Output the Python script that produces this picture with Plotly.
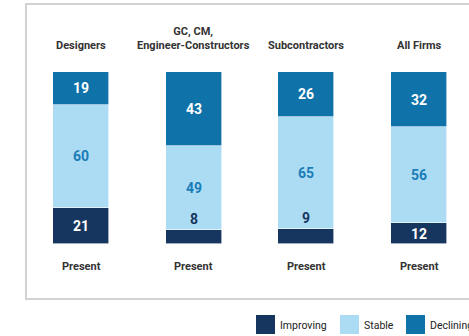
import plotly.graph_objects as go

categories = ["Designers", "GC, CM,<br>Engineer-Constructors", "Subcontractors", "All Firms"]
period_labels = ["Present", "Present", "Present", "Present"]
improving = [21, 8, 9, 12]
stable = [60, 49, 65, 56]
declining = [19, 43, 26, 32]
series_names = ["Improving", "Stable", "Declining"]

C_IMP = "#17365f"
C_STA = "#acdcf4"
C_DEC = "#0f72a8"
FONT = "Roboto"

W, H = 469, 336
T, B = 72, 92
x_idx = list(range(len(categories)))
spacing = 112.67
x0 = -81 / spacing
x1 = x0 + W / spacing

fig = go.Figure()
for name, vals, col in [("Improving", improving, C_IMP), ("Stable", stable, C_STA), ("Declining", declining, C_DEC)]:
    fig.add_trace(go.Bar(x=x_idx, y=vals, name=name, marker=dict(color=col, line=dict(color="white", width=0.6)),
                         width=0.497, showlegend=False, hoverinfo="skip"))

anns = []
for i in x_idx:
    base = 0
    for vals, col_in, col_out in [(improving, "white", C_IMP), (stable, "#1b7db7", "#1b7db7"), (declining, "white", "white")]:
        v = vals[i]
        if v >= 10:
            anns.append(dict(x=i, y=base + v / 2, text=f"<b>{v}</b>", showarrow=False,
                             font=dict(family=FONT, size=14, color=col_in), xref="x", yref="y"))
        else:
            anns.append(dict(x=i, y=base + v, text=f"<b>{v}</b>", showarrow=False, yanchor="bottom", yshift=1,
                             font=dict(family=FONT, size=14, color=col_out), xref="x", yref="y"))
        base += v
    anns.append(dict(x=i, y=100, text=f"<b>{categories[i]}</b>", showarrow=False, yanchor="bottom", yshift=18,
                     font=dict(family=FONT, size=11, color="#333333"), xref="x", yref="y"))
    anns.append(dict(x=i, y=0, text=f"<b>{period_labels[i]}</b>", showarrow=False, yanchor="middle", yshift=-22,
                     font=dict(family=FONT, size=11, color="#333333"), xref="x", yref="y"))

def py(px):
    return (H - B - px) / (H - T - B)

def pxx(px):
    return px / W

shapes = [dict(type="rect", xref="paper", yref="paper", x0=pxx(26), x1=pxx(500), y0=py(299), y1=py(4),
               line=dict(color="#d2d2d2", width=2), fillcolor="rgba(0,0,0,0)", layer="below")]

legend_x = [256, 340, 406]
for name, col, lx in zip(series_names, [C_IMP, C_STA, C_DEC], legend_x):
    shapes.append(dict(type="rect", xref="paper", yref="paper", x0=pxx(lx), x1=pxx(lx + 19), y0=py(334), y1=py(315),
                       line=dict(width=0), fillcolor=col))
    anns.append(dict(xref="paper", yref="paper", x=pxx(lx + 22), y=py(325), text=name, showarrow=False,
                     xanchor="left", yanchor="middle", font=dict(family=FONT, size=10.5, color="#222222")))

fig.update_layout(
    width=W, height=H, margin=dict(l=0, r=0, t=T, b=B),
    barmode="stack", bargap=0,
    paper_bgcolor="white", plot_bgcolor="white",
    xaxis=dict(range=[x0, x1], visible=False, fixedrange=True),
    yaxis=dict(range=[0, 100], visible=False, fixedrange=True),
    annotations=anns, shapes=shapes, showlegend=False,
)
fig.write_html("out.html", config={"displayModeBar": False})
